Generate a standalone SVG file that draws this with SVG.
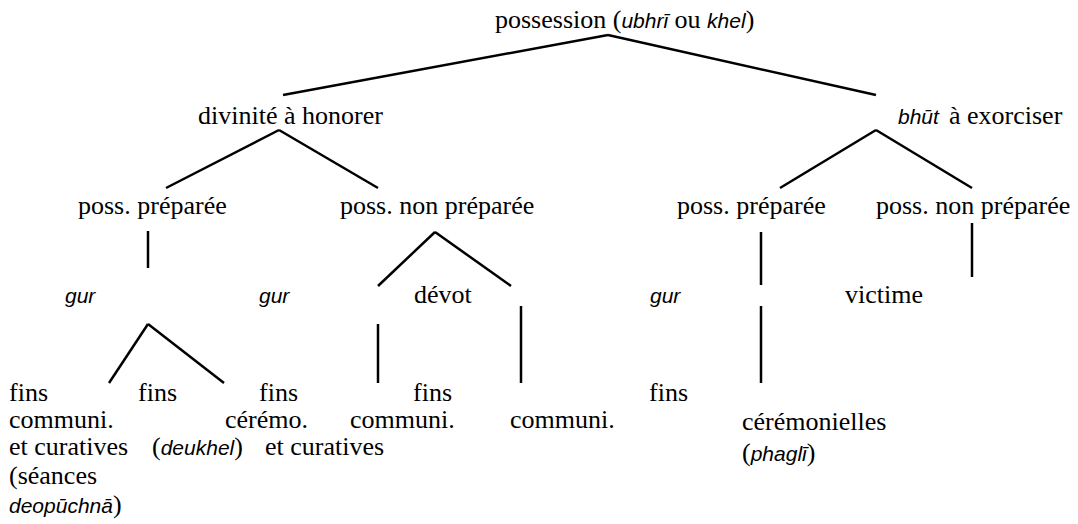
<svg xmlns="http://www.w3.org/2000/svg" width="1078" height="524" viewBox="0 0 1078 524">
<style>
.t{font-family:"Liberation Serif","Times New Roman",serif;font-size:26px;fill:#000}
.i{font-family:"Liberation Sans",Arial,sans-serif;font-style:italic;font-size:21px;fill:#000}
.c line{stroke:#000;stroke-width:2.5;fill:none}
</style>
<rect width="1078" height="524" fill="#fff"/>
<g class="c" id="connectors">
<line x1="608" y1="35" x2="283" y2="95"/>
<line x1="608" y1="35" x2="876" y2="95"/>
<line x1="279" y1="130" x2="166" y2="188"/>
<line x1="279" y1="130" x2="378" y2="188"/>
<line x1="876" y1="130" x2="780" y2="188"/>
<line x1="876" y1="130" x2="972" y2="188"/>
<line x1="148" y1="231" x2="148" y2="268"/>
<line x1="435" y1="232" x2="378" y2="286"/>
<line x1="435" y1="232" x2="511" y2="286"/>
<line x1="761" y1="232" x2="761" y2="285"/>
<line x1="972" y1="223" x2="972" y2="277"/>
<line x1="148" y1="324" x2="109" y2="383"/>
<line x1="148" y1="324" x2="224" y2="383"/>
<line x1="378" y1="324" x2="378" y2="383"/>
<line x1="521" y1="306" x2="521" y2="383"/>
<line x1="761" y1="306" x2="761" y2="383"/>
</g>
<g id="root"><text class="t" x="495" y="28">possession (<tspan class="i">ubhrī</tspan> ou <tspan class="i">khel</tspan>)</text></g>
<g id="divinite"><text class="t" x="198" y="124">divinité à honorer</text></g>
<g id="bhut"><text class="i" x="898" y="124">bhūt</text><text class="t" x="949" y="124">à exorciser</text></g>
<g id="d-prep"><text class="t" x="78" y="214">poss. préparée</text></g>
<g id="d-nonprep"><text class="t" x="340" y="214">poss. non préparée</text></g>
<g id="b-prep"><text class="t" x="677" y="214">poss. préparée</text></g>
<g id="b-nonprep"><text class="t" x="876" y="214">poss. non préparée</text></g>
<g id="gur1"><text class="i" x="65" y="303">gur</text></g>
<g id="gur2"><text class="i" x="259" y="303">gur</text></g>
<g id="devot"><text class="t" x="414" y="303">dévot</text></g>
<g id="gur3"><text class="i" x="650" y="303">gur</text></g>
<g id="victime"><text class="t" x="845" y="303">victime</text></g>
<g id="leaf1"><text class="t" x="9" y="401">fins</text><text class="t" x="9" y="428">communi.</text><text class="t" x="9" y="455">et curatives</text><text class="t" x="9" y="484">(séances</text><text class="t" x="9" y="513"><tspan class="i">deopūchnā</tspan>)</text></g>
<g id="leaf2"><text class="t" x="138" y="401">fins</text></g>
<g id="leaf3"><text class="t" x="259" y="401">fins</text><text class="t" x="225" y="428">cérémo.</text><text class="t" x="152" y="455">(<tspan class="i">deukhel</tspan>)</text></g>
<g id="leaf4"><text class="t" x="413" y="401">fins</text><text class="t" x="350" y="428">communi.</text><text class="t" x="265" y="455">et curatives</text></g>
<g id="leaf5"><text class="t" x="510" y="428">communi.</text></g>
<g id="leaf6"><text class="t" x="649" y="401">fins</text></g>
<g id="leaf7"><text class="t" x="742" y="430">cérémonielles</text><text class="t" x="742" y="461">(<tspan class="i">phaglī</tspan>)</text></g>
</svg>
